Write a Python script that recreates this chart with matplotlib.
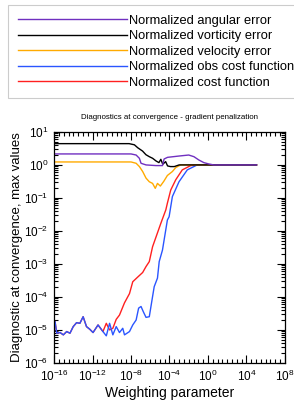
import matplotlib
matplotlib.use("Agg")
import matplotlib.pyplot as plt
import matplotlib.ticker as ticker
import numpy as np

plt.rcParams['font.family'] = ['Liberation Sans', 'DejaVu Sans']

# exponents (log10)
angLogX = [-16, -8.0, -7.47, -7.13, -6.96, -6.44, -5.41, -4.73, -4.56, -4.2, -3.0, -2.0, -1.46, -0.95, -0.43, 0.08, 0.6, 5.05]
angLogY = [0.333, 0.333, 0.30, 0.20, 0.05, 0.0, -0.02, -0.02, 0.18, 0.23, 0.27, 0.30, 0.25, 0.15, 0.07, 0.03, 0.0, 0.0]

vorLogX = [-16, -8.2, -7.65, -7.3, -6.8, -6.45, -6.1, -5.75, -5.4, -5.1, -4.9, -4.7, -4.4, -4.2, -3.9, -3.5, -3.0, 5.05]
vorLogY = [0.645, 0.645, 0.61, 0.52, 0.42, 0.31, 0.25, 0.20, 0.12, 0.07, 0.17, 0.02, 0.10, -0.03, -0.05, -0.05, 0.0, 0.0]

velLogX = [-16, -8.0, -7.47, -7.13, -6.79, -6.44, -6.10, -5.76, -5.48, -5.25, -4.95, -4.6, -4.22, -3.70, -3.35, -2.84, 5.05]
velLogY = [0.09, 0.09, 0.05, -0.05, -0.20, -0.40, -0.51, -0.56, -0.71, -0.56, -0.64, -0.50, -0.32, -0.20, -0.08, 0.0, 0.0]

obsLogX = [-15.9, -15.72, -15.38, -15.04, -14.69, -14.35, -14.01, -13.66, -13.32, -12.98, -12.63, -12.29,
           -11.95, -11.43, -10.92, -10.57, -10.23, -9.89, -9.54, -9.20, -8.86, -8.68, -8.16, -7.82, -7.47,
           -7.21, -6.96, -6.72, -6.44, -6.10, -5.76, -5.59, -5.25, -5.07, -4.73, -4.22, -4.04, -3.70, -3.01,
           -2.15, -1.12, 5.05]
obsLogY = [-4.75, -5.10, -5.08, -5.15, -5.05, -5.10, -4.90, -4.78, -4.80, -4.60, -4.90, -4.98,
           -5.08, -4.85, -5.05, -5.18, -4.80, -5.15, -4.90, -5.08, -4.95, -5.15, -5.05, -4.85, -4.70,
           -4.34, -4.29, -4.45, -4.62, -4.60, -3.99, -3.69, -3.43, -2.93, -2.58, -1.67, -1.57, -0.96, -0.51,
           -0.15, 0.0, 0.0]

costLogX = [-15.9, -15.72, -15.38, -15.04, -14.69, -14.35, -14.01, -13.66, -13.32, -12.98, -12.63, -12.29,
            -11.95, -11.43, -10.92, -10.57, -10.23, -9.89, -9.54, -9.20, -8.68, -8.16, -7.82, -7.31, -6.79,
            -6.44, -6.10, -5.76, -4.90, -4.38, -4.22, -3.87, -3.35, -2.67, -1.80, -0.95, 5.05]
costLogY = [-4.75, -5.10, -5.08, -5.15, -5.05, -5.10, -4.90, -4.78, -4.80, -4.60, -4.90, -4.98,
            -5.08, -4.85, -5.05, -4.80, -5.0, -4.95, -4.68, -4.55, -4.18, -3.90, -3.54, -3.40, -3.26,
            -3.08, -2.93, -2.48, -1.77, -1.36, -1.16, -0.76, -0.45, -0.15, -0.02, 0.0, 0.0]

fig = plt.figure(figsize=(2.94, 4.01), dpi=100)
ax = fig.add_axes([0.184, 0.095, 0.785, 0.576])

lw = 1.0
hCost, = ax.plot(10.0 ** np.array(costLogX), 10.0 ** np.array(costLogY), color='#ff2020', lw=lw)
hObs, = ax.plot(10.0 ** np.array(obsLogX), 10.0 ** np.array(obsLogY), color='#2a55ff', lw=lw)
hVel, = ax.plot(10.0 ** np.array(velLogX), 10.0 ** np.array(velLogY), color='#ffaa00', lw=lw)
hVor, = ax.plot(10.0 ** np.array(vorLogX), 10.0 ** np.array(vorLogY), color='black', lw=lw)
hAng, = ax.plot(10.0 ** np.array(angLogX), 10.0 ** np.array(angLogY), color='#7030c0', lw=lw)

ax.set_xscale('log')
ax.set_yscale('log')
ax.set_xlim(1e-16, 1e8)
ax.set_ylim(1e-6, 1e1)

ax.xaxis.set_major_locator(ticker.FixedLocator([1e-16, 1e-12, 1e-8, 1e-4, 1e0, 1e4, 1e8]))
ax.xaxis.set_major_formatter(ticker.LogFormatterSciNotation())
ax.xaxis.set_minor_locator(ticker.LogLocator(base=10, subs=(1.0, 3.16), numticks=100))
ax.xaxis.set_minor_formatter(ticker.NullFormatter())
ax.yaxis.set_major_locator(ticker.LogLocator(base=10, numticks=20))
ax.yaxis.set_minor_locator(ticker.LogLocator(base=10, subs=np.arange(2, 10), numticks=20))
ax.yaxis.set_minor_formatter(ticker.NullFormatter())

ax.tick_params(which='both', direction='in', top=True, right=True, width=0.8)
ax.tick_params(which='major', length=6, labelsize=8.5, pad=4)
ax.tick_params(which='minor', length=3)
for s in ax.spines.values():
    s.set_linewidth(0.9)

ax.set_title('Diagnostics at convergence - gradient penalization', fontsize=5.7, pad=9)
ax.set_xlabel('Weighting parameter', fontsize=10, labelpad=1.5)
ax.set_ylabel('Diagnostic at convergence, max values', fontsize=9.5, labelpad=1)

leg = fig.legend([hAng, hVor, hVel, hObs, hCost],
                 ['Normalized angular error', 'Normalized vorticity error', 'Normalized velocity error',
                  'Normalized obs cost function', 'Normalized cost function'],
                 loc='upper left', bbox_to_anchor=(0.027, 0.988), borderaxespad=0, fontsize=9.3,
                 handlelength=8.45, handletextpad=0.15, labelspacing=0.27,
                 borderpad=0.75, fancybox=False, framealpha=1, edgecolor='#cccccc')
leg.get_frame().set_linewidth(0.8)

fig.savefig('out.png', dpi=100)
